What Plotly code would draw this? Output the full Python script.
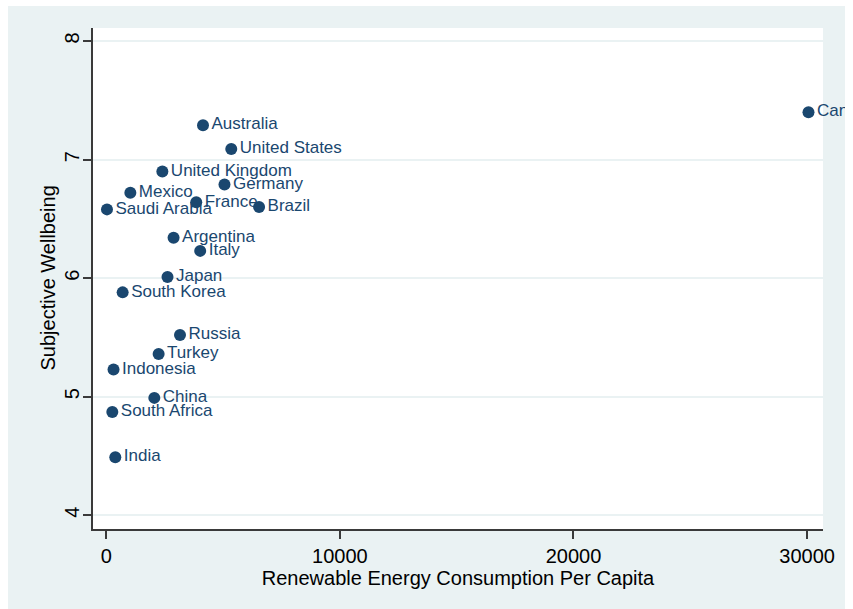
import plotly.graph_objects as go

# Renewable energy use per capita vs. subjective wellbeing, by country
countries = [
    "Canada", "Australia", "United States", "United Kingdom", "Germany",
    "Mexico", "France", "Brazil", "Saudi Arabia", "Argentina", "Italy",
    "Japan", "South Korea", "Russia", "Turkey", "Indonesia", "China",
    "South Africa", "India",
]
renewable_pc = [
    30060, 4140, 5350, 2400, 5060,
    1030, 3850, 6540, 30, 2880, 4020,
    2620, 700, 3155, 2240, 310, 2055,
    257, 385,
]
wellbeing = [
    7.40, 7.29, 7.09, 6.90, 6.79,
    6.72, 6.64, 6.60, 6.58, 6.34, 6.23,
    6.01, 5.88, 5.52, 5.36, 5.23, 4.99,
    4.87, 4.49,
]

x_ticks = [0, 10000, 20000, 30000]
y_ticks = [4, 5, 6, 7, 8]

NAVY = "#1a476f"
BG = "#eaf2f3"
AXIS = "#3a3a3a"
FONT = "Liberation Sans, Arial, sans-serif"

W, H = 853, 609
ML, MR, MT, MB = 93, 30, 28, 80
plot_w = W - ML - MR
plot_h = H - MT - MB


def px_x(p):
    """Figure pixel column -> paper x fraction."""
    return (p - ML) / plot_w


def px_y(p):
    """Figure pixel row (from top) -> paper y fraction."""
    return (H - MB - p) / plot_h


fig = go.Figure(
    go.Scatter(
        x=renewable_pc,
        y=wellbeing,
        mode="markers+text",
        text=countries,
        textposition="middle right",
        textfont=dict(family=FONT, size=17, color=NAVY),
        marker=dict(size=12, color=NAVY),
        cliponaxis=False,
        hoverinfo="skip",
    )
)

# white page border around the shaded graph region
border = dict(type="rect", xref="paper", yref="paper", fillcolor="white",
              line=dict(width=0), layer="above")
fig.add_shape(x0=px_x(0), x1=px_x(8), y0=px_y(H), y1=px_y(0), **border)
fig.add_shape(x0=px_x(0), x1=px_x(W), y0=px_y(6), y1=px_y(0), **border)
fig.add_shape(x0=px_x(845), x1=px_x(W), y0=px_y(H), y1=px_y(0), **border)

# vertical y-axis title
fig.add_annotation(
    text="Subjective Wellbeing",
    xref="paper", yref="paper",
    x=px_x(47), y=0.5,
    xanchor="center", yanchor="middle",
    textangle=-90,
    showarrow=False,
    font=dict(family=FONT, size=20, color="black"),
)

fig.update_layout(
    width=W,
    height=H,
    margin=dict(l=ML, r=MR, t=MT, b=MB),
    paper_bgcolor=BG,
    plot_bgcolor="white",
    showlegend=False,
    font=dict(family=FONT, color="black"),
)

fig.update_xaxes(
    range=[-569, 30681],
    tickvals=x_ticks,
    ticktext=[str(v) for v in x_ticks],
    tickfont=dict(size=20, color="black"),
    ticks="outside",
    ticklen=8,
    tickwidth=1.5,
    tickcolor=AXIS,
    showline=True,
    linecolor=AXIS,
    linewidth=1.5,
    showgrid=False,
    zeroline=False,
    title=dict(text="Renewable Energy Consumption Per Capita",
               font=dict(size=20, color="black"), standoff=0),
)

fig.update_yaxes(
    range=[3.884, 8.11],
    tickvals=y_ticks,
    tickfont=dict(size=20, color="black"),
    tickangle=-90,
    ticklabelstandoff=-4,
    ticks="outside",
    ticklen=8,
    tickwidth=1.5,
    tickcolor=AXIS,
    showline=True,
    linecolor=AXIS,
    linewidth=1.5,
    showgrid=True,
    gridcolor=BG,
    gridwidth=2,
    zeroline=False,
)

fig.write_html("out.html")
